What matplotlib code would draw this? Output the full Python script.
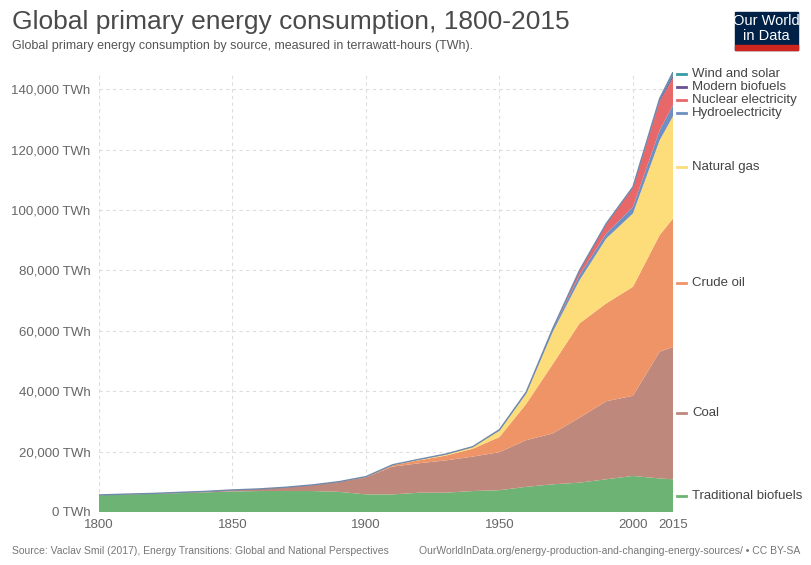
import matplotlib
matplotlib.use('Agg')
import matplotlib.pyplot as plt
import matplotlib.patches as mpatches
import numpy as np

plt.rcParams['font.family'] = ['Liberation Sans', 'DejaVu Sans']

# Data (TWh)
years = [1800, 1810, 1820, 1830, 1840, 1850, 1860, 1870, 1880, 1890, 1900, 1910,
         1920, 1930, 1940, 1950, 1960, 1970, 1980, 1990, 2000, 2010, 2015]
traditional_biofuels = [5556, 5800, 6000, 6250, 6500, 6800, 6944, 6944, 6944, 6667, 5833, 5833,
                        6389, 6400, 6944, 7222, 8333, 9167, 9722, 10833, 11944, 11111, 10833]
coal = [97, 120, 150, 250, 330, 510, 700, 1250, 2000, 3300, 5650, 9200,
        9760, 10700, 11400, 12600, 15442, 16856, 21500, 25844, 26539, 41981, 43786]
crude_oil = [0, 0, 0, 0, 0, 0, 0, 6, 30, 90, 180, 450,
             1000, 1600, 2600, 5000, 12000, 23000, 31250, 32400, 36090, 38590, 42580]
natural_gas = [0, 0, 0, 0, 0, 0, 0, 0, 0, 0, 60, 150,
               250, 400, 600, 2100, 3400, 10700, 14300, 21500, 24290, 31420, 33850]
hydro = [0, 0, 0, 0, 0, 0, 0, 0, 0, 0, 0, 20,
         70, 100, 100, 340, 500, 900, 1650, 1650, 2200, 3300, 3700]
nuclear = [0, 0, 0, 0, 0, 0, 0, 0, 0, 0, 0, 0,
           0, 0, 0, 0, 10, 200, 1600, 3200, 6400, 9500, 9000]
modern_biofuels = [0, 0, 0, 0, 0, 0, 0, 0, 0, 0, 0, 0,
                   0, 0, 0, 0, 0, 0, 40, 80, 150, 600, 800]
wind_solar = [0, 0, 0, 0, 0, 0, 0, 0, 0, 0, 0, 0,
              0, 0, 0, 0, 0, 0, 0, 30, 50, 400, 1150]

labels = ['Traditional biofuels', 'Coal', 'Crude oil', 'Natural gas',
          'Hydroelectricity', 'Nuclear electricity', 'Modern biofuels', 'Wind and solar']
colors = ['#6db373', '#bf887c', '#ef9467', '#fddc7a',
          '#6e8fc2', '#e8686a', '#6b4f93', '#3a9aa3']
series = [traditional_biofuels, coal, crude_oil, natural_gas,
          hydro, nuclear, modern_biofuels, wind_solar]

xticks = [1800, 1850, 1900, 1950, 2000, 2015]
yticks = [0, 20000, 40000, 60000, 80000, 100000, 120000, 140000]

fig = plt.figure(figsize=(8.12, 5.65), dpi=100)
ax = fig.add_axes([99 / 812, 1 - 512 / 565, 574 / 812, 440 / 565])

ax.stackplot(years, *series, colors=colors, linewidth=0)
total = np.sum(np.array(series), axis=0)
ax.plot(years, total, color='#7189ab', lw=1.0)

ax.set_xlim(1800, 2015)
ax.set_ylim(0, total.max())
ax.set_xticks(xticks)
ax.set_yticks(yticks)
ax.set_yticklabels(['{:,} TWh'.format(v) for v in yticks])
ax.tick_params(length=0, labelsize=9.5, colors='#666666')
ax.tick_params(axis='x', pad=5)
ax.tick_params(axis='y', pad=6)
for s in ax.spines.values():
    s.set_visible(False)
ax.set_axisbelow(True)
ax.grid(True, color='#dddddd', linestyle=(0, (3, 3)), lw=0.8)
ax.axvline(1800, color='#dddddd', linestyle=(0, (3, 3)), lw=0.8, zorder=0)

# Labels at the right, at the middle of each band, pushed apart
cum = np.cumsum(np.array(series)[:, -1])
mids = cum - np.array(series)[:, -1] / 2
gap = 13 * total.max() / 440
pos = list(mids)
for i in range(len(pos) - 2, -1, -1):
    if pos[i] > pos[i + 1] - gap:
        pos[i] = pos[i + 1] - gap
trans = ax.get_yaxis_transform()
for lab, col, y in zip(labels, colors, pos):
    ax.plot([1.007, 1.022], [y, y], color=col, lw=2, transform=trans, clip_on=False)
    ax.text(1.033, y, lab, transform=trans, va='center', ha='left', fontsize=9.5, color='#444444')

# Titles
fig.text(12 / 812, 1 - 22 / 565, 'Global primary energy consumption, 1800-2015',
         fontsize=19, color='#4a4a4a', va='center', ha='left')
fig.text(12 / 812, 1 - 46 / 565,
         'Global primary energy consumption by source, measured in terrawatt-hours (TWh).',
         fontsize=9, color='#555555', va='center', ha='left')

# Footer
fig.text(12 / 812, 1 - 551 / 565,
         'Source: Vaclav Smil (2017), Energy Transitions: Global and National Perspectives',
         fontsize=7.5, color='#777777', va='center', ha='left')
fig.text(800 / 812, 1 - 551 / 565,
         'OurWorldInData.org/energy-production-and-changing-energy-sources/ \u2022 CC BY-SA',
         fontsize=7.5, color='#777777', va='center', ha='right')

# Logo
fig.patches.append(mpatches.Rectangle((735 / 812, 1 - 50 / 565), 63 / 812, 38 / 565,
                                      transform=fig.transFigure, color='#002147'))
fig.patches.append(mpatches.Rectangle((735 / 812, 1 - 50 / 565), 63 / 812, 4.5 / 565,
                                      transform=fig.transFigure, color='#ce261e'))
fig.text(766.5 / 812, 1 - 21 / 565, 'Our World', fontsize=10.5, color='white',
         ha='center', va='center')
fig.text(766.5 / 812, 1 - 36 / 565, 'in Data', fontsize=10.5, color='white',
         ha='center', va='center')

plt.savefig('out.png', dpi=100)
plt.close()
